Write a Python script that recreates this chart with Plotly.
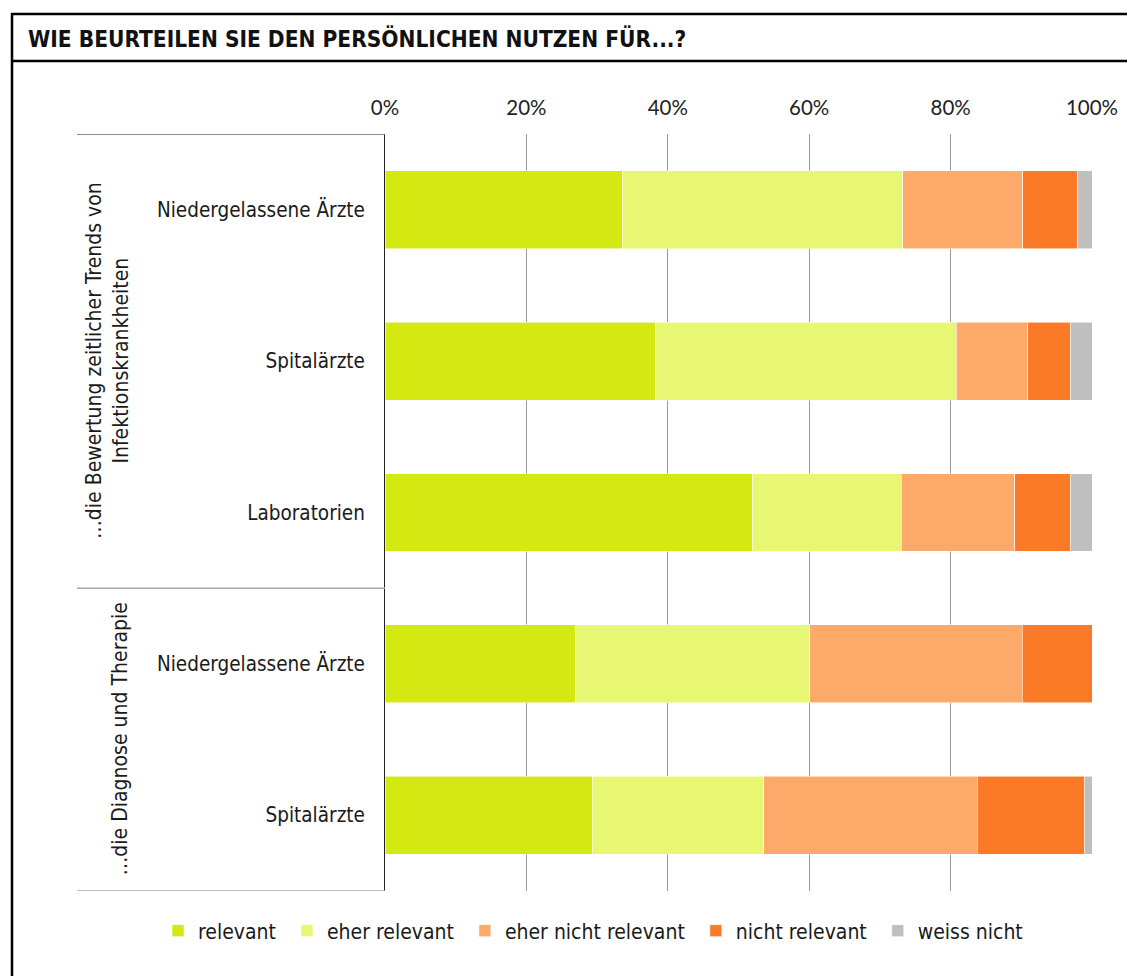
import plotly.graph_objects as go

title_text = "WIE BEURTEILEN SIE DEN PERSÖNLICHEN NUTZEN FÜR...?"
categories = ["Niedergelassene Ärzte", "Spitalärzte", "Laboratorien",
              "Niedergelassene Ärzte", "Spitalärzte"]
group_labels = ["…die Bewertung zeitlicher Trends von<br>Infektionskrankheiten",
                "…die Diagnose und Therapie"]
series_names = ["relevant", "eher relevant", "eher nicht relevant", "nicht relevant", "weiss nicht"]
relevant = [33.6, 38.3, 52.0, 27.0, 29.3]
eher_relevant = [39.6, 42.5, 21.0, 33.1, 24.3]
eher_nicht_relevant = [17.0, 10.1, 16.1, 30.0, 30.2]
nicht_relevant = [7.8, 6.1, 7.9, 9.9, 15.2]
weiss_nicht = [2.0, 3.0, 3.0, 0.0, 1.0]
x_ticks = [0, 20, 40, 60, 80, 100]

series_values = [relevant, eher_relevant, eher_nicht_relevant, nicht_relevant, weiss_nicht]
colors = ["#D3E911", "#E7F673", "#FCA96A", "#FB7A28", "#BFBFBF"]

NARROW = "DejaVu Sans Condensed, Liberation Sans Narrow, sans-serif"
TICKF = "Lato, Open Sans, sans-serif"

W, H = 1127, 976
L, R, T, B = 385, 35, 134, 85
pw = W - L - R
ph = H - T - B

def px_x(p):
    return (p - L) / pw

def px_y(p):
    return (H - B - p) / ph

ypos = list(range(len(categories)))
PAD = "\u00a0"  # spacing after legend text (invisible)

fig = go.Figure()
for name, vals, col in zip(series_names, series_values, colors):
    fig.add_trace(go.Bar(
        y=ypos, x=vals, name=name + PAD, orientation="h",
        marker=dict(color=col, line=dict(color="rgba(255,255,255,0.7)", width=0.8)),
    ))

fig.update_layout(
    width=W, height=H,
    margin=dict(l=L, r=R, t=T, b=B, autoexpand=False),
    barmode="stack",
    bargap=0.485,
    paper_bgcolor="white",
    plot_bgcolor="white",
    font=dict(family=NARROW, size=21, color="#1a1a1a"),
    xaxis=dict(
        side="top", range=[0, 100], tickvals=x_ticks,
        ticktext=[f"{v}%" for v in x_ticks],
        showgrid=True, gridcolor="#9a9a9a", gridwidth=1,
        zeroline=False, showline=False, ticks="",
        tickfont=dict(family=TICKF, size=20.5, color="#222"),
        ticklabelstandoff=14,
    ),
    yaxis=dict(
        range=[4.5, -0.5], tickvals=ypos, ticktext=categories,
        showgrid=False, zeroline=False,
        showline=True, linecolor="#222", linewidth=1,
        ticks="", ticklabelstandoff=15,
        tickfont=dict(family=NARROW, size=20.5, color="#1a1a1a"),
    ),
    legend=dict(
        orientation="h", xref="paper", yref="paper",
        x=px_x(158), y=px_y(931),
        xanchor="left", yanchor="middle",
        font=dict(family=NARROW, size=21, color="#1a1a1a"),
        traceorder="normal", bgcolor="rgba(0,0,0,0)",
    ),
    showlegend=True,
)

# frame
frame = dict(color="black", width=2.5)
fig.add_shape(type="line", xref="paper", yref="paper",
              x0=px_x(11), x1=px_x(1127), y0=px_y(14), y1=px_y(14), line=frame)
fig.add_shape(type="line", xref="paper", yref="paper",
              x0=px_x(11), x1=px_x(1127), y0=px_y(61), y1=px_y(61), line=frame)
fig.add_shape(type="line", xref="paper", yref="paper",
              x0=px_x(12), x1=px_x(12), y0=px_y(13), y1=px_y(976), line=frame)

# group bracket lines
for yv, col in [(-0.5, "#666"), (2.5, "#aaa"), (4.5, "#aaa")]:
    fig.add_shape(type="line", xref="paper", yref="y",
                  x0=px_x(77), x1=0, y0=yv, y1=yv,
                  line=dict(color=col, width=1.5))

# title
fig.add_annotation(text=f"<b>{title_text}</b>", xref="paper", yref="paper",
                   x=px_x(26), y=px_y(38), xanchor="left", yanchor="middle",
                   showarrow=False, font=dict(family=NARROW, size=22.5, color="#111"))

# group labels
fig.add_annotation(text=group_labels[0], xref="paper", yref="y",
                   x=px_x(107), y=1, textangle=-90, showarrow=False,
                   xanchor="center", yanchor="middle", align="center",
                   font=dict(family=NARROW, size=21, color="#1a1a1a"))
fig.add_annotation(text=group_labels[1], xref="paper", yref="y",
                   x=px_x(120), y=3.5, textangle=-90, showarrow=False,
                   xanchor="center", yanchor="middle", align="center",
                   font=dict(family=NARROW, size=21, color="#1a1a1a"))

fig.write_html("out.html", config={"displayModeBar": False},
               post_script="document.body.style.margin='0';document.body.style.padding='0';")
